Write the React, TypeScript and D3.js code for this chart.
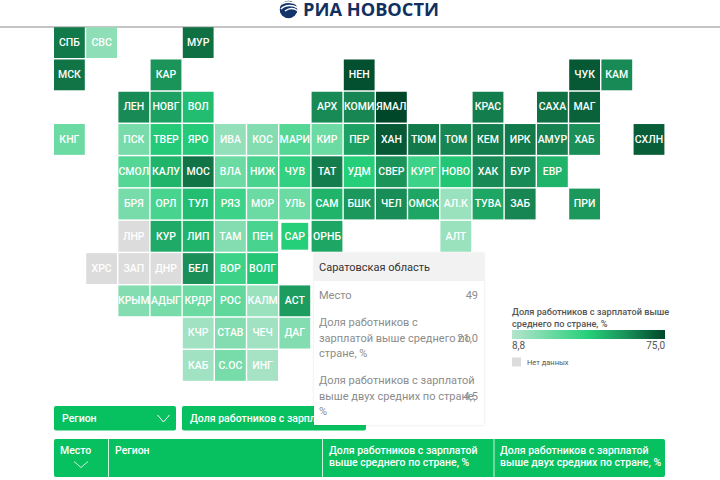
import React from "react";
import * as d3 from "d3";

const W = 720, H = 480;
const FONT = "Roboto, sans-serif";

const labels = ["СПБ","СВС","МУР","МСК","КАР","НЕН","ЧУК","КАМ","ЛЕН","НОВГ","ВОЛ","АРХ","КОМИ","ЯМАЛ","КРАС","САХА","МАГ","КНГ","ПСК","ТВЕР","ЯРО","ИВА","КОС","МАРИ","КИР","ПЕР","ХАН","ТЮМ","ТОМ","КЕМ","ИРК","АМУР","ХАБ","СХЛН","СМОЛ","КАЛУ","МОС","ВЛА","НИЖ","ЧУВ","ТАТ","УДМ","СВЕР","КУРГ","НОВО","ХАК","БУР","ЕВР","БРЯ","ОРЛ","ТУЛ","РЯЗ","МОР","УЛЬ","САМ","БШК","ЧЕЛ","ОМСК","АЛ.К","ТУВА","ЗАБ","ПРИ","ЛНР","КУР","ЛИП","ТАМ","ПЕН","САР","ОРНБ","АЛТ","ХРС","ЗАП","ДНР","БЕЛ","ВОР","ВОЛГ","КРЫМ","АДЫГ","КРДР","РОС","КАЛМ","АСТ","КЧР","СТАВ","ЧЕЧ","ДАГ","КАБ","С.ОС","ИНГ"];
const rows = [0,0,0,1,1,1,1,1,2,2,2,2,2,2,2,2,2,3,3,3,3,3,3,3,3,3,3,3,3,3,3,3,3,3,4,4,4,4,4,4,4,4,4,4,4,4,4,4,5,5,5,5,5,5,5,5,5,5,5,5,5,5,6,6,6,6,6,6,6,6,7,7,7,7,7,7,8,8,8,8,8,8,9,9,9,9,10,10,10];
const cols = [0,1,4,0,3,9,16,17,2,3,4,8,9,10,13,15,16,0,2,3,4,5,6,7,8,9,10,11,12,13,14,15,16,18,2,3,4,5,6,7,8,9,10,11,12,13,14,15,2,3,4,5,6,7,8,9,10,11,12,13,14,16,2,3,4,5,6,7,8,12,1,2,3,4,5,6,2,3,4,5,6,7,4,5,6,7,4,5,6];
const values: (number | null)[] = [47,12,52,50,34,70,65,38,38,31,25,38,40,75,45,52,60,15,14,22,22,11.5,13,17,15,31,65,47,40,45,47,42,35,62,17,27,50,15,18,20,45,21,34,19,23,38,38,27,14,18,25,19,15,15,27,33,36,30,11,30,40,33,null,29,27,13,18,21,30,11,null,null,null,35,19,23,13,14,15,16,11,32,10.5,13,10.5,13,10.5,14,10];

const colorDomain = [8.8, 21, 35, 75];
const colorRange = ["#b4e5cd", "#25cf7a", "#1a8f58", "#00472a"];
const legendStops = [0, 0.5, 0.75, 1];
const NO_DATA = "#dcdcdc";
const ACCENT = "#07c160";

const tipRows: [string[], string][] = [
  [["Место"], "49"],
  [["Доля работников с", "зарплатой выше среднего по", "стране, %"], "21,0"],
  [["Доля работников с зарплатой", "выше двух средних по стране,", "%"], "4,5"],
];
const tipY = [295, 322, 380];
const legendTitle = ["Доля работников с зарплатой выше", "среднего по стране, %"];
const tableHeaders = [["Регион"], ["Доля работников с зарплатой", "выше среднего по стране, %"], ["Доля работников с зарплатой", "выше двух средних по стране, %"]];

const x = d3.scaleLinear().domain([0, 18]).range([54, 633.6]);
const y = d3.scaleLinear().domain([0, 10]).range([27.2, 350]);
const color = d3.scaleLinear<string>().domain(colorDomain).range(colorRange).interpolate(d3.interpolateRgb);
const SIZE = 30.8;

const Chevron = ({ cx, cy, w, h, sw = 1 }: any) => (
  <path d={`M${cx - w / 2},${cy - h / 2}L${cx},${cy + h / 2}L${cx + w / 2},${cy - h / 2}`} fill="none" stroke="#fff" strokeWidth={sw} />
);

export default function App() {
  return (
    <svg width={W} height={H} style={{ position: "absolute", left: 0, top: 0, background: "#fff", fontFamily: FONT }}>
      <defs>
        <linearGradient id="lg">
          {legendStops.map((o, i) => <stop key={i} offset={o} stopColor={colorRange[i]} />)}
        </linearGradient>
        <clipPath id="globe"><circle cx={288.5} cy={9.5} r={9} /></clipPath>
        <filter id="shadow" x="-5%" y="-5%" width="110%" height="110%">
          <feDropShadow dx={0} dy={0} stdDeviation={1} floodColor="#000" floodOpacity={0.12} />
        </filter>
      </defs>

      {/* header */}
      <g clipPath="url(#globe)">
        <circle cx={288.5} cy={9.5} r={9} fill="#12346b" />
        <path d="M279,6 C284,1 292,1 298,5" stroke="#fff" strokeWidth={1.6} fill="none" />
        <path d="M281,9 C286,4 293,5 298,8" stroke="#fff" strokeWidth={1.6} fill="none" />
        <path d="M285,11 C289,8 294,8 298,11" stroke="#fff" strokeWidth={1.4} fill="none" />
      </g>
      <text x={303} y={15.5} fontFamily="'Open Sans', sans-serif" fontWeight={700} fontSize={17.5} fill="#12305f" textLength={136} lengthAdjust="spacingAndGlyphs">РИА НОВОСТИ</text>
      <line x1={0} x2={W} y1={27} y2={27} stroke="#8a8a8a" strokeWidth={1} />

      {/* tiles */}
      {labels.map((l, i) => {
        const v = values[i];
        const hl = l === "САР";
        const pad = hl ? 2 : 0;
        return (
          <g key={l}>
            <rect x={x(cols[i]) + pad} y={y(rows[i]) + pad} width={SIZE - 2 * pad} height={SIZE - 2 * pad} fill={v == null ? NO_DATA : color(v)} />
            <text x={x(cols[i]) + SIZE / 2} y={y(rows[i]) + SIZE / 2 + 0.5} textAnchor="middle" dominantBaseline="middle" fontSize={10.5} fontWeight={500} fill="#fff">{l}</text>
          </g>
        );
      })}

      {/* controls */}
      <rect x={54} y={406} width={122} height={24.5} rx={2} fill={ACCENT} />
      <text x={62} y={422} fontSize={10.5} fontWeight={500} fill="#fff">Регион</text>
      <Chevron cx={163.5} cy={418.5} w={12} h={7} />
      <rect x={182} y={406} width={184} height={24.5} rx={2} fill={ACCENT} />
      <text x={190} y={422} fontSize={10.5} fontWeight={500} fill="#fff">Доля работников с зарплатой</text>

      {/* table header */}
      <rect x={54} y={439} width={611} height={38} rx={2} fill={ACCENT} />
      {[108.5, 322.5, 494].map((d) => <line key={d} x1={d} x2={d} y1={439} y2={477} stroke="#fff" strokeOpacity={0.8} strokeWidth={1} />)}
      <text x={60} y={454} fontSize={10.5} fontWeight={500} fill="#fff">Место</text>
      <Chevron cx={81} cy={464.5} w={14} h={6} sw={0.8} />
      {tableHeaders.map((lines, i) => lines.map((t, j) => (
        <text key={t + i} x={[115, 329, 500][i]} y={454 + j * 11.5} fontSize={10.5} fontWeight={500} fill="#fff">{t}</text>
      )))}

      {/* tooltip */}
      <g filter="url(#shadow)">
        <rect x={314} y={253} width={170} height={172} fill="#fff" />
      </g>
      <rect x={314} y={253} width={170} height={28} fill="#f2f2f2" />
      <text x={319} y={271} fontSize={11} fill="#333">Саратовская область</text>
      {tipRows.map(([lines, val], i) => (
        <g key={i} fill="#8c8c8c" fontSize={11}>
          {lines.map((t, j) => <text key={j} x={319} y={tipY[i] + 4 + j * 15.5}>{t}</text>)}
          <text x={478} y={tipY[i] + 4 + (lines.length > 1 ? 15.5 : 0)} textAnchor="end">{val}</text>
        </g>
      ))}

      {/* legend */}
      {legendTitle.map((t, i) => <text key={i} x={512} y={315 + i * 12.2} fontSize={9.2} fontWeight={500} fill="#555">{t}</text>)}
      <rect x={512} y={330} width={153} height={9} fill="url(#lg)" />
      <text x={512} y={349} fontSize={10} fill="#555">8,8</text>
      <text x={665} y={349} fontSize={10} fill="#555" textAnchor="end">75,0</text>
      <rect x={512} y={357.5} width={9} height={9} fill={NO_DATA} />
      <text x={527} y={365} fontSize={7.5} fill="#555">Нет данных</text>
    </svg>
  );
}
